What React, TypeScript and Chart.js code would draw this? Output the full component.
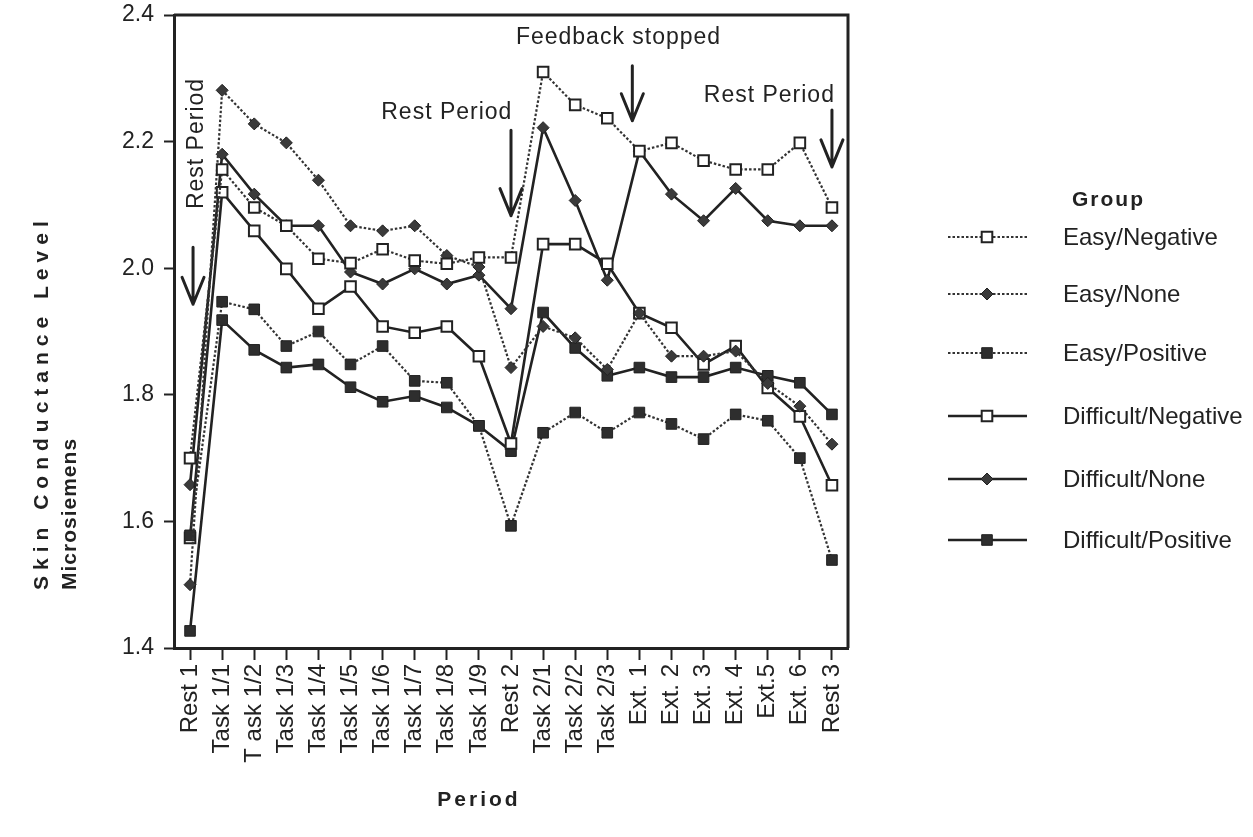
import React, { useEffect, useRef } from "react";
import { Chart, registerables } from "chart.js";

Chart.register(...registerables);

// Session periods along the x axis
const periods = [
  "Rest 1", "Task 1/1", "T ask 1/2", "Task 1/3", "Task 1/4", "Task 1/5", "Task 1/6",
  "Task 1/7", "Task 1/8", "Task 1/9", "Rest 2", "Task 2/1", "Task 2/2", "Task 2/3",
  "Ext. 1", "Ext. 2", "Ext. 3", "Ext. 4", "Ext.5", "Ext. 6", "Rest 3",
];

const yTickValues = [1.4, 1.6, 1.8, 2.0, 2.2, 2.4];

const groupNames = [
  "Easy/Negative", "Easy/None", "Easy/Positive",
  "Difficult/Negative", "Difficult/None", "Difficult/Positive",
];

// Mean skin conductance level (microsiemens) per group
const easyNegative = [1.70, 2.156, 2.096, 2.067, 2.015, 2.008, 2.030, 2.012, 2.007, 2.017, 2.017, 2.310, 2.258, 2.237, 2.185, 2.198, 2.170, 2.156, 2.156, 2.198, 2.096];
const easyNone = [1.50, 2.281, 2.228, 2.198, 2.139, 2.067, 2.059, 2.067, 2.020, 2.002, 1.843, 1.908, 1.890, 1.840, 1.929, 1.861, 1.861, 1.869, 1.818, 1.782, 1.722];
const easyPositive = [1.578, 1.947, 1.935, 1.877, 1.900, 1.848, 1.877, 1.822, 1.819, 1.751, 1.593, 1.740, 1.772, 1.740, 1.772, 1.754, 1.730, 1.769, 1.759, 1.700, 1.539];
const difficultNegative = [1.574, 2.120, 2.059, 1.999, 1.936, 1.971, 1.908, 1.898, 1.908, 1.861, 1.723, 2.038, 2.038, 2.007, 1.929, 1.906, 1.848, 1.877, 1.811, 1.766, 1.657];
const difficultNone = [1.658, 2.180, 2.117, 2.067, 2.067, 1.994, 1.975, 1.999, 1.975, 1.989, 1.936, 2.222, 2.107, 1.981, 2.185, 2.117, 2.075, 2.126, 2.075, 2.067, 2.067];
const difficultPositive = [1.427, 1.918, 1.871, 1.843, 1.848, 1.812, 1.789, 1.798, 1.780, 1.751, 1.711, 1.930, 1.874, 1.830, 1.843, 1.828, 1.828, 1.843, 1.830, 1.819, 1.769];

const INK = "#222222";
const DOT_INK = "#333333";
const FONT = '"Liberation Sans", Arial, Helvetica, sans-serif';

type Marker = "open" | "filled" | "diamond";

const series: { data: number[]; dotted: boolean; marker: Marker }[] = [
  { data: easyNegative, dotted: true, marker: "open" },
  { data: easyNone, dotted: true, marker: "diamond" },
  { data: easyPositive, dotted: true, marker: "filled" },
  { data: difficultNegative, dotted: false, marker: "open" },
  { data: difficultNone, dotted: false, marker: "diamond" },
  { data: difficultPositive, dotted: false, marker: "filled" },
];

const DASH = [2.5, 2];
const SOLID_W = 2.6;
const DOT_W = 2.2;

function drawMarker(ctx: CanvasRenderingContext2D, m: Marker, x: number, y: number) {
  ctx.save();
  ctx.setLineDash([]);
  ctx.strokeStyle = INK;
  if (m === "diamond") {
    const r = 6;
    ctx.beginPath();
    ctx.moveTo(x - r, y);
    ctx.lineTo(x, y - r);
    ctx.lineTo(x + r, y);
    ctx.lineTo(x, y + r);
    ctx.closePath();
    ctx.fillStyle = "#3a3a3a";
    ctx.lineWidth = 1;
    ctx.fill();
    ctx.stroke();
  } else {
    const h = 7.5 * Math.SQRT1_2;
    ctx.beginPath();
    ctx.rect(x - h, y - h, 2 * h, 2 * h);
    ctx.fillStyle = m === "open" ? "#ffffff" : "#2e2e2e";
    ctx.lineWidth = m === "open" ? 2 : 1;
    ctx.fill();
    ctx.stroke();
  }
  ctx.restore();
}

function drawArrow(ctx: CanvasRenderingContext2D, x: number, y0: number, y1: number) {
  ctx.save();
  ctx.strokeStyle = INK;
  ctx.lineWidth = 3;
  ctx.lineCap = "round";
  ctx.lineJoin = "round";
  ctx.beginPath();
  ctx.moveTo(x, y0);
  ctx.lineTo(x, y1);
  ctx.moveTo(x - 11, y1 - 27);
  ctx.lineTo(x, y1);
  ctx.lineTo(x + 11, y1 - 27);
  ctx.stroke();
  ctx.restore();
}

const decorations = {
  id: "decorations",
  afterDraw(chart: any) {
    const { ctx, chartArea: a, scales } = chart;
    const xs = scales.x;
    const ys = scales.y;
    const px = (i: number) => xs.getPixelForValue(i);
    const py = (v: number) => ys.getPixelForValue(v);
    ctx.save();

    // frame on the top and right of the plot
    ctx.strokeStyle = INK;
    ctx.lineWidth = 3;
    ctx.beginPath();
    ctx.moveTo(a.left, a.top);
    ctx.lineTo(a.right, a.top);
    ctx.lineTo(a.right, a.bottom);
    ctx.stroke();

    // period annotations
    ctx.fillStyle = INK;
    ctx.font = `23px ${FONT}`;
    (ctx as any).letterSpacing = "1px";
    ctx.textBaseline = "middle";
    ctx.textAlign = "center";
    ctx.fillText("Rest Period", px(8.0), py(2.245));
    ctx.fillText("Feedback stopped", px(13.35), py(2.364));
    ctx.fillText("Rest Period", px(18.05), py(2.273));

    ctx.save();
    ctx.translate(px(0) + 7, py(2.197));
    ctx.rotate(-Math.PI / 2);
    ctx.fillText("Rest Period", 0, 0);
    ctx.restore();

    drawArrow(ctx, px(0) + 3, py(2.033), py(1.943));
    drawArrow(ctx, px(10), py(2.218), py(2.083));
    drawArrow(ctx, px(13.78), py(2.32), py(2.233));
    drawArrow(ctx, px(20), py(2.25), py(2.16));

    // axis titles
    ctx.font = `bold 21px ${FONT}`;
    (ctx as any).letterSpacing = "6px";
    ctx.textAlign = "left";
    ctx.save();
    ctx.translate(42, 590);
    ctx.rotate(-Math.PI / 2);
    ctx.fillText("Skin Conductance Level", 0, 0);
    ctx.restore();
    (ctx as any).letterSpacing = "1px";
    ctx.save();
    ctx.translate(70, 590);
    ctx.rotate(-Math.PI / 2);
    ctx.fillText("Microsiemens", 0, 0);
    ctx.restore();

    ctx.textAlign = "center";
    (ctx as any).letterSpacing = "3px";
    ctx.fillText("Period", 479, 800);

    // legend
    (ctx as any).letterSpacing = "2px";
    ctx.font = `bold 21px ${FONT}`;
    ctx.textAlign = "left";
    ctx.fillText("Group", 1072, 200);
    (ctx as any).letterSpacing = "0px";
    ctx.font = `24px ${FONT}`;
    const rows = [237, 294, 353, 416, 479, 540];
    series.forEach((s, i) => {
      const y = rows[i];
      ctx.save();
      ctx.strokeStyle = s.dotted ? DOT_INK : INK;
      ctx.lineWidth = s.dotted ? DOT_W : SOLID_W;
      ctx.setLineDash(s.dotted ? DASH : []);
      ctx.beginPath();
      ctx.moveTo(948, y);
      ctx.lineTo(1027, y);
      ctx.stroke();
      ctx.restore();
      drawMarker(ctx, s.marker, 987, y);
      ctx.fillStyle = INK;
      ctx.fillText(groupNames[i], 1063, y + 1);
    });

    ctx.restore();
  },
};

export default function App() {
  const canvasRef = useRef<HTMLCanvasElement | null>(null);

  useEffect(() => {
    const canvas = canvasRef.current;
    if (!canvas) return;
    const chart = new Chart(canvas, {
      type: "line",
      data: {
        labels: periods,
        datasets: series.map((s, i) => ({
          label: groupNames[i],
          data: s.data,
          borderColor: s.dotted ? DOT_INK : INK,
          borderWidth: s.dotted ? DOT_W : SOLID_W,
          borderDash: s.dotted ? DASH : [],
          pointStyle: s.marker === "diamond" ? "rectRot" : "rect",
          pointRadius: s.marker === "diamond" ? 6 : 7.5,
          pointHoverRadius: s.marker === "diamond" ? 6 : 7.5,
          pointBackgroundColor: s.marker === "open" ? "#ffffff" : s.marker === "diamond" ? "#3a3a3a" : "#2e2e2e",
          pointBorderColor: INK,
          pointBorderWidth: s.marker === "open" ? 2 : 1,
          tension: 0,
          fill: false,
        })),
      },
      options: {
        responsive: false,
        animation: false,
        events: [],
        layout: { padding: { top: 15, right: 405, left: 0, bottom: 0 } },
        plugins: {
          legend: { display: false },
          tooltip: { enabled: false },
          title: { display: false },
        },
        scales: {
          x: {
            type: "category",
            offset: true,
            grid: {
              display: true,
              drawOnChartArea: false,
              drawTicks: true,
              tickLength: 12,
              tickWidth: 2,
              color: INK,
              offset: false,
            },
            border: { display: true, color: INK, width: 3 },
            ticks: {
              autoSkip: false,
              maxRotation: 90,
              minRotation: 90,
              padding: 4,
              color: INK,
              font: { family: FONT, size: 24 },
            },
            afterFit: (s: any) => {
              s.height = 837 - 648;
              s.paddingLeft = 0;
              s.paddingRight = 0;
            },
          },
          y: {
            min: 1.4,
            max: 2.4,
            afterBuildTicks: (s: any) => {
              s.ticks = yTickValues.map((v) => ({ value: v }));
            },
            grid: {
              display: true,
              drawOnChartArea: false,
              drawTicks: true,
              tickLength: 10,
              tickWidth: 2,
              color: INK,
            },
            border: { display: true, color: INK, width: 3 },
            ticks: {
              padding: 10,
              color: INK,
              font: { family: FONT, size: 23 },
              callback: (v: any) => Number(v).toFixed(1),
            },
            afterFit: (s: any) => {
              s.width = 174;
              s.paddingTop = 0;
              s.paddingBottom = 0;
            },
          },
        },
      },
      plugins: [decorations],
    });
    return () => chart.destroy();
  }, []);

  return (
    <div style={{ position: "fixed", left: 0, top: 0, width: 1253, height: 837, background: "#fff" }}>
      <canvas ref={canvasRef} width={1253} height={837} style={{ display: "block" }} />
    </div>
  );
}
